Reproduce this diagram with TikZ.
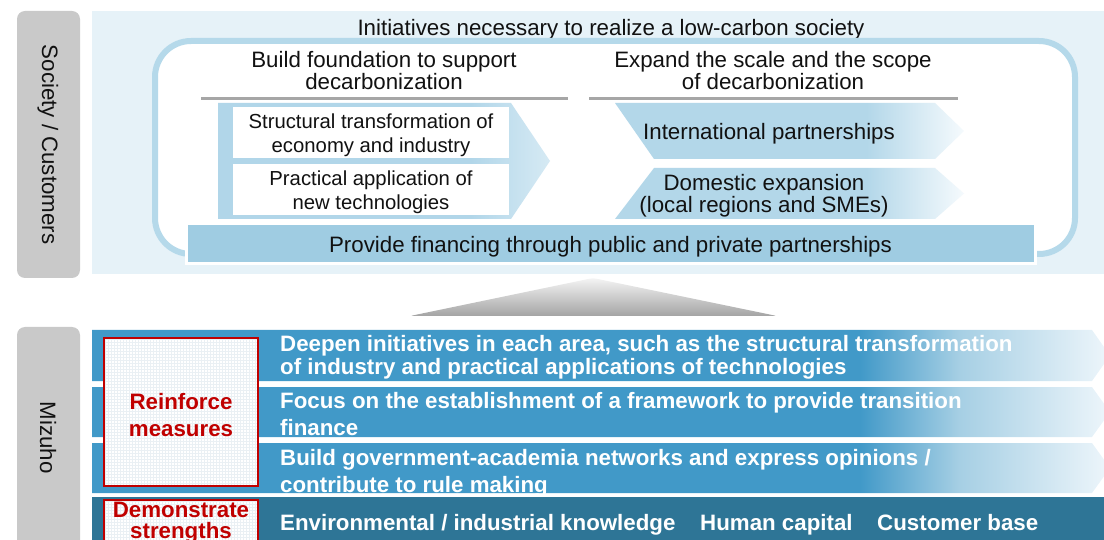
\documentclass[tikz,border=0pt]{standalone}
\usepackage{fontspec}
\setmainfont{Liberation Sans}
\definecolor{greylab}{HTML}{C9C9C9}
\definecolor{panel}{HTML}{E6F2F8}
\definecolor{frameblue}{HTML}{B5D9EA}
\definecolor{finblue}{HTML}{9FCCE2}
\definecolor{arrA}{HTML}{B1D6E9}
\definecolor{arrB}{HTML}{D6EAF4}
\definecolor{chevA}{HTML}{B3D7E9}
\definecolor{chevB}{HTML}{F5FAFD}
\definecolor{lineg}{HTML}{A6A6A6}
\definecolor{barA}{HTML}{4199C8}
\definecolor{barM}{HTML}{A6CFE4}
\definecolor{barB}{HTML}{EEF6FB}
\definecolor{darkbar}{HTML}{2E7596}
\definecolor{redc}{HTML}{C00000}
\definecolor{gridc}{HTML}{EAF0F4}
\definecolor{txt}{HTML}{111111}
\definecolor{triA}{HTML}{F4F4F4}
\definecolor{triB}{HTML}{A4A4A4}
\pgfdeclarehorizontalshading{arrsh}{100bp}{color(0bp)=(arrA); color(25bp)=(arrA); color(63bp)=(arrA); color(75bp)=(arrB); color(100bp)=(arrB)}
\pgfdeclarehorizontalshading{chevsh}{100bp}{color(0bp)=(chevA); color(25bp)=(chevA); color(61bp)=(chevA); color(75bp)=(chevB); color(100bp)=(chevB)}
\pgfdeclarehorizontalshading{barsh}{100bp}{color(0bp)=(barA); color(25bp)=(barA); color(62.7bp)=(barA); color(67.6bp)=(barM); color(75bp)=(barB); color(100bp)=(barB)}
\begin{document}
\begin{tikzpicture}[x=1pt,y=-1pt,
  reg/.style={font=\fontsize{22.3}{22}\selectfont, text=txt, inner sep=0pt, align=center},
  smalltxt/.style={font=\fontsize{20.3}{24}\selectfont, text=txt, inner sep=0pt, align=center},
  boldtxt/.style={font=\bfseries\fontsize{22.3}{23}\selectfont, text=white, inner sep=0pt, align=left, anchor=west},
  boldwide/.style={font=\bfseries\fontsize{22.3}{27}\selectfont, text=white, inner sep=0pt, align=left, anchor=west},
  boldbase/.style={font=\bfseries\fontsize{22.3}{23}\selectfont, text=white, inner sep=0pt, anchor=base west},
  redtxt/.style={font=\bfseries\fontsize{22.3}{27}\selectfont, text=redc, inner sep=0pt, align=center},
  labelbox/.style={fill=greylab, rounded corners=8pt},
  headline/.style={draw=lineg, line width=3pt},
  whitebox/.style={fill=white, inner sep=0pt, minimum width=276pt, minimum height=51pt},
  redbox/.style={draw=redc, line width=2.5pt},
]
\useasboundingbox (0,0) rectangle (1104,540);
\begin{scope}
\clip (0,0) rectangle (1104,540);
% left labels
\path[labelbox] (17,11) rectangle (80,278);
\node[reg, rotate=-90] (soc) at (48,144.5) {Society / Customers};
\path[labelbox] (17,327) rectangle (80,560);
\node[reg, rotate=-90] (miz) at (48,437.5) {Mizuho};
% top panel
\fill[panel] (92,11) rectangle (1104,274);
\node[reg] (title) at (611,29.5) {Initiatives necessary to realize a low-carbon society};
\draw[draw=frameblue, fill=white, line width=6pt, rounded corners=36pt] (155,41) rectangle (1075,254);
\node[reg] (h1) at (384,70.5) {Build foundation to support\\decarbonization};
\node[reg] (h2) at (773,70.5) {Expand the scale and the scope\\of decarbonization};
\draw[headline] (201,99) -- (568,99);
\draw[headline] (589,99) -- (958,99);
% left arrow
\shade[shading=arrsh] (218,103) -- (511,103) -- (550,161) -- (511,219) -- (218,219) -- cycle;
\node[whitebox] (st) at (371,132.5) {};
\node[smalltxt] (stt) at (371,135) {Structural transformation of\\economy and industry};
\node[whitebox] (pa) at (371,189.5) {};
\node[smalltxt] (pat) at (371,192) {Practical application of\\new technologies};
% right chevrons
\shade[shading=chevsh] (615,103) -- (935,103) -- (964,131) -- (935,159) -- (654,159) -- cycle;
\shade[shading=chevsh] (654,168) -- (935,168) -- (964,193.5) -- (935,219) -- (615,219) -- cycle;
\node[reg] (intl) at (769,133.5) {International partnerships};
\node[reg] (dom) at (764,195.5) {Domestic expansion\\(local regions and SMEs)};
% financing bar
\node[fill=finblue, draw=white, line width=3pt, minimum width=849pt, minimum height=40pt, inner sep=0pt] (fin) at (610.5,244) {};
\node[reg] (fint) at (610.5,246.5) {Provide financing through public and private partnerships};
% grey triangle
\shade[top color=triA, bottom color=triB, rounded corners=3pt] (410,316) -- (593,278) -- (777,316) -- cycle;
% bars
\shade[shading=barsh] (92,330) -- (1092,330) -- (1110,355.5) -- (1092,381) -- (92,381) -- cycle;
\shade[shading=barsh] (92,387) -- (1092,387) -- (1110,412) -- (1092,437) -- (92,437) -- cycle;
\shade[shading=barsh] (92,443) -- (1092,443) -- (1110,468) -- (1092,493) -- (92,493) -- cycle;
\fill[darkbar] (92,497) rectangle (1104,545);
% red boxes
\fill[white] (104,338) rectangle (258,486);
\draw[gridc, line width=0.3pt, step=3pt] (105,339) grid (257,485);
\draw[redbox] (104,338) rectangle (258,486);
\fill[white] (104,500) rectangle (258,560);
\draw[gridc, line width=0.3pt, step=3pt] (105,501) grid (257,545);
\draw[redbox] (104,500) rectangle (258,560);
\node[redtxt] (reinf) at (181,415) {Reinforce\\measures};
\node[redtxt, font=\bfseries\fontsize{22.3}{21}\selectfont] (demo) at (181,523) {Demonstrate\\strengths};
% bar texts
\node[boldtxt] (b1) at (280,357.5) {Deepen initiatives in each area, such as the structural transformation\\of industry and practical applications of technologies};
\node[boldwide] (b2) at (280,414.5) {Focus on the establishment of a framework to provide transition\\finance};
\node[boldwide] (b3) at (280,473) {Build government-academia networks and express opinions /\\contribute to rule making};
\node[boldbase] (k1) at (280,530.5) {Environmental / industrial knowledge};
\node[boldbase] (k2) at (700,530.5) {Human capital};
\node[boldbase] (k3) at (877,530.5) {Customer base};
\end{scope}
\end{tikzpicture}
\end{document}
